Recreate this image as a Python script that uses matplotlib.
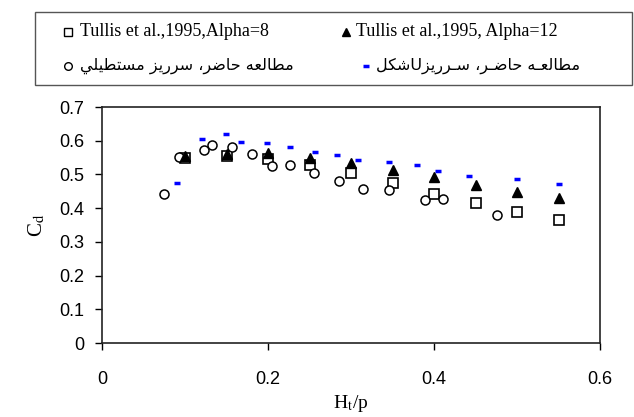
import matplotlib
matplotlib.use("Agg")
import matplotlib.pyplot as plt
from matplotlib.lines import Line2D
from matplotlib.patches import Rectangle

# داده‌ها
tullis_x = [0.10, 0.15, 0.20, 0.25, 0.30, 0.35, 0.40, 0.45, 0.50, 0.55]
tullis_a8 = [0.550, 0.555, 0.546, 0.527, 0.505, 0.476, 0.443, 0.414, 0.390, 0.366]
tullis_a12 = [0.555, 0.560, 0.565, 0.550, 0.535, 0.513, 0.492, 0.468, 0.449, 0.430]

rect_x = [0.075, 0.093, 0.123, 0.133, 0.157, 0.181, 0.205, 0.227, 0.256,
          0.285, 0.315, 0.346, 0.389, 0.411, 0.476]
rect_y = [0.443, 0.552, 0.572, 0.587, 0.582, 0.562, 0.524, 0.528, 0.504,
          0.480, 0.458, 0.453, 0.423, 0.428, 0.380]

ushape_x = [0.090, 0.121, 0.149, 0.168, 0.199, 0.227, 0.257, 0.283, 0.309,
            0.346, 0.379, 0.405, 0.442, 0.500, 0.551]
ushape_y = [0.476, 0.605, 0.620, 0.597, 0.592, 0.582, 0.567, 0.557, 0.543,
            0.538, 0.529, 0.509, 0.495, 0.485, 0.471]

x_ticks = [0, 0.2, 0.4, 0.6]
y_ticks = [0, 0.1, 0.2, 0.3, 0.4, 0.5, 0.6, 0.7]

LABEL_A8 = "Tullis et al.,1995,Alpha=8"
LABEL_A12 = "Tullis et al.,1995, Alpha=12"
LABEL_RECT = "مطالعه حاضر، سرریز مستطیلي"
LABEL_U = "مطالعـه حاضـر، سـرریزUشکل"

# فرم‌های نمایشی حروف: (جدا، پایانی، آغازی، میانی)
FORMS = {
    "ا": ("\uFE8D", "\uFE8E", None, None),
    "ر": ("\uFEAD", "\uFEAE", None, None),
    "ز": ("\uFEAF", "\uFEB0", None, None),
    "م": ("\uFEE1", "\uFEE2", "\uFEE3", "\uFEE4"),
    "ط": ("\uFEC1", "\uFEC2", "\uFEC3", "\uFEC4"),
    "ل": ("\uFEDD", "\uFEDE", "\uFEDF", "\uFEE0"),
    "ع": ("\uFEC9", "\uFECA", "\uFECB", "\uFECC"),
    "ه": ("\uFEE9", "\uFEEA", "\uFEEB", "\uFEEC"),
    "ح": ("\uFEA1", "\uFEA2", "\uFEA3", "\uFEA4"),
    "ض": ("\uFEBD", "\uFEBE", "\uFEBF", "\uFEC0"),
    "س": ("\uFEB1", "\uFEB2", "\uFEB3", "\uFEB4"),
    "ت": ("\uFE95", "\uFE96", "\uFE97", "\uFE98"),
    "ي": ("\uFEF1", "\uFEF2", "\uFEF3", "\uFEF4"),
    "ی": ("\uFBFC", "\uFBFD", "\uFBFE", "\uFBFF"),
    "ش": ("\uFEB5", "\uFEB6", "\uFEB7", "\uFEB8"),
    "ک": ("\uFB8E", "\uFB8F", "\uFB90", "\uFB91"),
    "ـ": ("ـ", "ـ", "ـ", "ـ"),
}


def shape(text):
    """اتصال حروف و چیدن از راست به چپ"""
    out = []
    for i, c in enumerate(text):
        if c not in FORMS:
            out.append(c)
            continue
        iso, fin, ini, med = FORMS[c]
        prev = text[i - 1] if i > 0 else None
        nxt = text[i + 1] if i + 1 < len(text) else None
        join_prev = prev in FORMS and FORMS[prev][2] is not None
        join_next = ini is not None and nxt in FORMS
        if join_prev and join_next:
            out.append(med)
        elif join_prev:
            out.append(fin)
        elif join_next:
            out.append(ini)
        else:
            out.append(iso)
    return "".join(reversed(out))


plt.rcParams["font.family"] = ["Liberation Sans", "DejaVu Sans"]
plt.rcParams["mathtext.fontset"] = "stix"

W, H = 634, 417
fig = plt.figure(figsize=(W / 100, H / 100), dpi=100)
ax = fig.add_axes([102 / W, 1 - 343 / H, 498 / W, 236 / H])

ax.plot(tullis_x, tullis_a8, "s", ms=6.5, mfc="white", mec="black", mew=1.2,
        zorder=3)
ax.plot(tullis_x, tullis_a12, "^", ms=7.5, color="black", zorder=4)
ax.plot(rect_x, rect_y, "o", ms=6.5, mfc="white", mec="black", mew=1.1,
        zorder=3)
ax.plot(ushape_x, ushape_y, "_", ms=5, mew=2.5, color="#0000ff", zorder=5)

ax.set_xlim(0, 0.6)
ax.set_ylim(0, 0.7)
ax.set_xticks(x_ticks)
ax.set_xticklabels(["0", "0.2", "0.4", "0.6"])
ax.set_yticks(y_ticks)
ax.set_yticklabels(["0", "0.1", "0.2", "0.3", "0.4", "0.5", "0.6", "0.7"])
ax.tick_params(direction="out", length=5, width=1, labelsize=13,
               colors="black")
ax.tick_params(axis="x", pad=15)
ax.tick_params(axis="y", pad=8)
for sp in ax.spines.values():
    sp.set_linewidth(1.2)
    sp.set_color("#222222")

ax.set_xlabel("H$_\\mathrm{t}$/p", fontsize=14, family="Liberation Serif",
              labelpad=4)
ax.set_ylabel("C$_\\mathrm{d}$", fontsize=15, family="Liberation Serif",
              labelpad=8)

# جعبه راهنما
fig.add_artist(Rectangle((35 / W, 1 - 85 / H), 597 / W, 73 / H,
                         transform=fig.transFigure, fill=False,
                         edgecolor="#555555", lw=1))


def fx(px):
    return px / W


def fy(py):
    return 1 - py / H


row1, row2 = 32, 66
fig.add_artist(Line2D([fx(68)], [fy(row1)], marker="s", ms=5.5, mfc="white",
                      mec="black", mew=1, transform=fig.transFigure))
fig.text(fx(80), fy(row1), LABEL_A8, fontsize=13, family="Liberation Serif",
         va="center", ha="left")
fig.add_artist(Line2D([fx(346)], [fy(row1)], marker="^", ms=6, color="black",
                      transform=fig.transFigure))
fig.text(fx(356), fy(row1), LABEL_A12, fontsize=13, family="Liberation Serif",
         va="center", ha="left")

fig.add_artist(Line2D([fx(68)], [fy(row2)], marker="o", ms=5.5, mfc="white",
                      mec="black", mew=1, transform=fig.transFigure))
fig.text(fx(80), fy(row2), shape(LABEL_RECT), fontsize=11.5,
         family="DejaVu Sans", va="center", ha="left")
fig.add_artist(Line2D([fx(366)], [fy(row2)], marker="_", ms=5, mew=2.5,
                      color="#0000ff", transform=fig.transFigure))
fig.text(fx(376), fy(row2), shape(LABEL_U), fontsize=11.5,
         family="DejaVu Sans", va="center", ha="left")

fig.savefig("out.png", dpi=100)
